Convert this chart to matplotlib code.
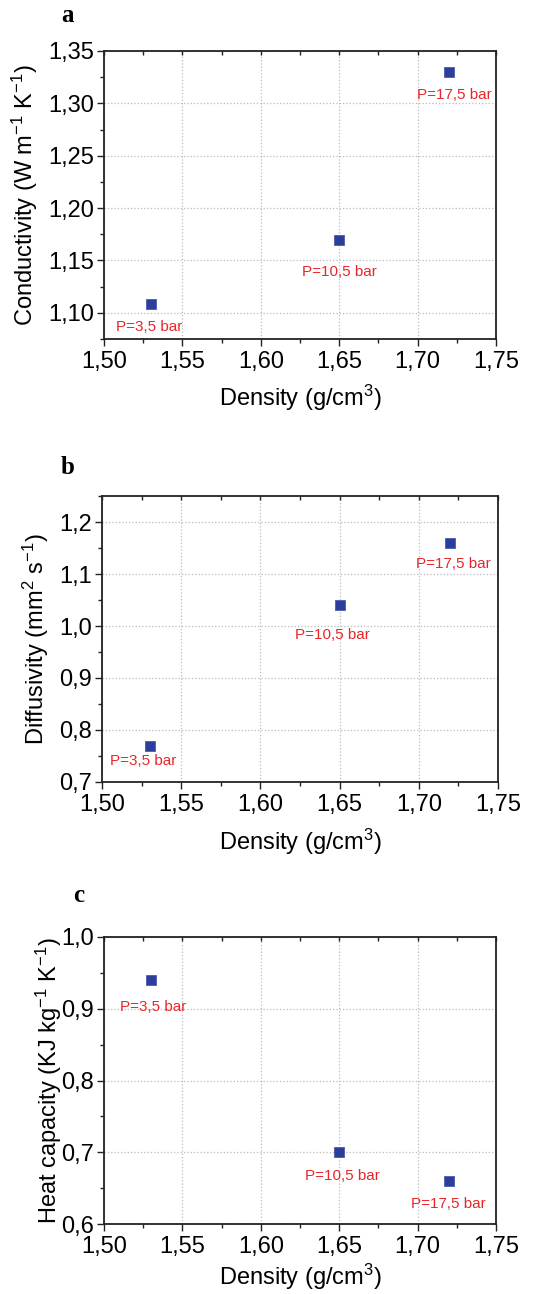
import numpy as np
import matplotlib.pyplot as plt
from matplotlib.ticker import MultipleLocator, FuncFormatter

"""data"""

density      = [1.53, 1.65, 1.72]
pressure_lbl = ['P=3,5 bar', 'P=10,5 bar', 'P=17,5 bar']
conductivity = [1.108, 1.17, 1.33]
diffusivity  = [0.77, 1.04, 1.16]
heat_cap     = [0.94, 0.70, 0.66]

"""plot"""

plt.rcParams['font.family'] = ['Liberation Sans', 'DejaVu Sans']
plt.rcParams['mathtext.default'] = 'regular'

fig = plt.figure(figsize=(5.53, 12.94), dpi=100)
W, H = 553., 1294.

# panel specs: axes box in px (left, top, right, bottom), ylim, ticks, decimals, ylabel,
# label centres (axes fraction), annotation offsets (px), panel letter pos (px)
panels = [
    dict(box=(104, 51, 496, 339), y=conductivity, ylim=(1.075, 1.35), ymaj=0.05, ymin=0.025, dec=2,
         ylabel='Conductivity (W m$^{-1}$ K$^{-1}$)', ylx=-0.201, xly=-0.205,
         offs=[(-2, -23), (0, -32), (5, -23)], letter='a', lpos=(61, 15)),
    dict(box=(102, 496, 498, 782), y=diffusivity, ylim=(0.7, 1.25), ymaj=0.1, ymin=0.05, dec=1,
         ylabel='Diffusivity (mm$^{2}$ s$^{-1}$)', ylx=-0.167, xly=-0.21,
         offs=[(-6, -15), (-7, -30), (3, -21)], letter='b', lpos=(61, 467)),
    dict(box=(104, 937, 496, 1224), y=heat_cap, ylim=(0.6, 1.0), ymaj=0.1, ymin=0.05, dec=1,
         ylabel='Heat capacity (KJ kg$^{-1}$ K$^{-1}$)', ylx=-0.14, xly=-0.185,
         offs=[(2, -27), (3, -24), (-1, -23)], letter='c', lpos=(73, 895)),
]

for p in panels:
    l, t, r, b = p['box']
    ax = fig.add_axes([l / W, 1 - b / H, (r - l) / W, (b - t) / H])
    ax.plot(density, p['y'], linestyle='none', marker='s', markersize=7,
            color='#2b3e9c', markeredgecolor='#4a5cb0', markeredgewidth=0.6, zorder=3)
    for xi, yi, lbl, off in zip(density, p['y'], pressure_lbl, p['offs']):
        ax.annotate(lbl, (xi, yi), xytext=off, textcoords='offset pixels',
                    ha='center', va='center', fontsize=11, color='#e8262a')

    ax.set_xlim(1.50, 1.75)
    ax.set_ylim(*p['ylim'])
    ax.xaxis.set_major_locator(MultipleLocator(0.05))
    ax.xaxis.set_minor_locator(MultipleLocator(0.025))
    ax.yaxis.set_major_locator(MultipleLocator(p['ymaj']))
    ax.yaxis.set_minor_locator(MultipleLocator(p['ymin']))
    dec = p['dec']
    ax.xaxis.set_major_formatter(FuncFormatter(lambda v, pos: '{:.2f}'.format(v).replace('.', ',')))
    ax.yaxis.set_major_formatter(FuncFormatter(lambda v, pos, d=dec: '{:.{d}f}'.format(v, d=d).replace('.', ',')))

    ax.tick_params(axis='both', which='major', labelsize=17, length=5, width=1.0, color='#222222')
    ax.tick_params(axis='both', which='minor', length=3, width=1.0, color='#222222')
    ax.tick_params(axis='x', which='both', direction='out', top=True, pad=4)
    ax.tick_params(axis='y', which='both', direction='out', pad=2)
    # top ticks inward
    for tk in ax.xaxis.get_major_ticks() + ax.xaxis.get_minor_ticks():
        tk.tick2line.set_marker(3)
        tk.tick2line.set_markersize(3)

    for s in ax.spines.values():
        s.set_linewidth(1.3)
        s.set_color('#222222')

    ax.grid(True, which='major', linestyle=':', color='#bbbbbb', linewidth=0.9)
    ax.set_axisbelow(True)

    ax.set_xlabel('Density (g/cm$^{3}$)', fontsize=17, va='center')
    ax.set_ylabel(p['ylabel'], fontsize=17, va='center')
    ax.xaxis.set_label_coords(0.5, p['xly'])
    ax.yaxis.set_label_coords(p['ylx'], 0.5)

    lx, ly = p['lpos']
    fig.text(lx / W, 1 - ly / H, p['letter'], fontsize=18, fontweight='bold',
             family='Liberation Serif', ha='left', va='center')

"""save"""

plt.savefig('out.png', dpi=100)
